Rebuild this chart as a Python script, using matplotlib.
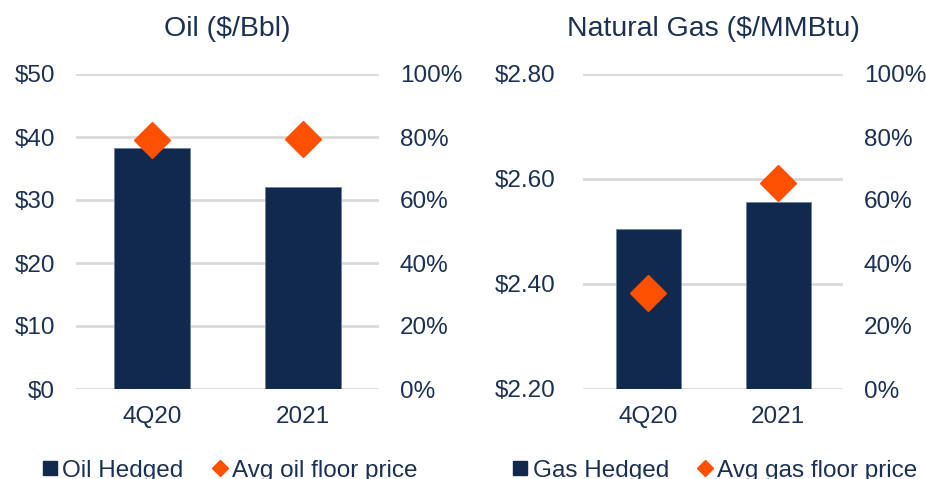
import matplotlib
matplotlib.use("Agg")
import matplotlib.pyplot as plt
from matplotlib.lines import Line2D
from matplotlib.ticker import FuncFormatter

plt.rcParams['font.family'] = ['Liberation Sans', 'DejaVu Sans']

categories = ["4Q20", "2021"]
oil_hedged = [38.2, 32.1]
oil_floor_pct = [79, 79.5]
gas_hedged = [2.505, 2.557]
gas_floor_pct = [30.5, 65.5]

BAR = '#11294d'
DIA = '#ff4f00'
TXT = '#1b3153'
GRID = '#d9d9d9'
FS = 17.5

fig = plt.figure(figsize=(9.26, 4.79), dpi=100)
top = 1 - 74 / 479
bottom = 1 - 389 / 479
ax1 = fig.add_axes([76 / 926, bottom, (379 - 76) / 926, top - bottom])
ax2 = fig.add_axes([583 / 926, bottom, (843 - 583) / 926, top - bottom])


def style(ax, axr, title, yticks, fmt, lpad, rpad, bar_label, dia_label):
    for a in (ax, axr):
        for s in a.spines.values():
            s.set_visible(False)
        a.tick_params(length=0, labelsize=FS, labelcolor=TXT)
    ax.tick_params(axis='y', pad=lpad)
    axr.tick_params(axis='y', pad=rpad)
    ax.tick_params(axis='x', pad=12)
    ax.set_yticks(yticks)
    ax.yaxis.set_major_formatter(FuncFormatter(fmt))
    ax.set_ylim(yticks[0], yticks[-1])
    ax.grid(axis='y', color=GRID, lw=2)
    ax.set_axisbelow(True)
    axr.set_ylim(0, 100)
    axr.set_yticks(range(0, 101, 20))
    axr.yaxis.set_major_formatter(FuncFormatter(lambda v, p: f"{v:.0f}%"))
    ax.set_xlim(-0.5, 1.5)
    ax.set_title(title, fontsize=20.5, color=TXT, pad=27)
    handles = [Line2D([], [], marker='s', ls='none', color=BAR, markersize=10),
               Line2D([], [], marker='D', ls='none', color=DIA, markersize=8)]
    ax.legend(handles, [bar_label, dia_label], loc='center', ncol=2,
              bbox_to_anchor=(0.5, -0.26), frameon=False, fontsize=FS,
              labelcolor=TXT, handletextpad=0.0, columnspacing=1.0,
              handlelength=1.0)


# Oil
ax1r = ax1.twinx()
ax1.bar(range(len(categories)), oil_hedged, width=0.5, color=BAR,
        edgecolor='#6f83a0', linewidth=0.6, zorder=2)
ax1.set_xticks(range(len(categories)), categories)
ax1r.plot(range(len(categories)), oil_floor_pct, 'D', color=DIA,
          markersize=18, ls='none')
style(ax1, ax1r, "Oil ($/Bbl)", [0, 10, 20, 30, 40, 50],
      lambda v, p: f"${v:.0f}", 15, 15, "Oil Hedged", "Avg oil floor price")

# Gas
ax2r = ax2.twinx()
ax2.bar(range(len(categories)), gas_hedged, width=0.5, color=BAR,
        edgecolor='#6f83a0', linewidth=0.6, zorder=2)
ax2.set_xticks(range(len(categories)), categories)
ax2r.plot(range(len(categories)), gas_floor_pct, 'D', color=DIA,
          markersize=18, ls='none')
style(ax2, ax2r, "Natural Gas ($/MMBtu)", [2.2, 2.4, 2.6, 2.8],
      lambda v, p: f"${v:.2f}", 20, 15, "Gas Hedged", "Avg gas floor price")

fig.savefig("out.png", dpi=100)
